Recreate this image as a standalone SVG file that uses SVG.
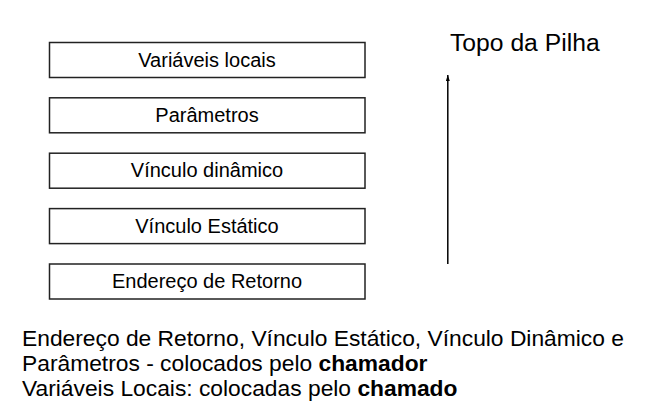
<svg xmlns="http://www.w3.org/2000/svg" width="655" height="406" viewBox="0 0 655 406">
<style>
.box{fill:#ffffff;stroke:#222222;stroke-width:1.5}
.lbl{font-family:"Liberation Sans",Arial,sans-serif;font-size:20px;fill:#000000;text-anchor:middle}
.txt{font-family:"Liberation Sans",Arial,sans-serif;font-size:22.8px;fill:#000000}
.edge{stroke:#000000;stroke-width:1.5;fill:none}
</style>
<defs>
<marker id="ah" viewBox="0 0 6 4" refX="6" refY="2" markerWidth="6" markerHeight="4" markerUnits="userSpaceOnUse" orient="auto">
<path d="M0,0 L6,2 L0,4 Z" fill="#000000"/>
</marker>
</defs>
<rect width="655" height="406" fill="#ffffff"/>
<g id="n1"><rect class="box" x="49.5" y="42.5" width="315.5" height="35"/><text class="lbl" x="207" y="66.7">Variáveis locais</text></g>
<g id="n2"><rect class="box" x="49.5" y="97.8" width="315.5" height="35"/><text class="lbl" x="207" y="122">Parâmetros</text></g>
<g id="n3"><rect class="box" x="49.5" y="153.2" width="315.5" height="35"/><text class="lbl" x="207" y="177.4">Vínculo dinâmico</text></g>
<g id="n4"><rect class="box" x="49.5" y="208.6" width="315.5" height="35"/><text class="lbl" x="207" y="232.8">Vínculo Estático</text></g>
<g id="n5"><rect class="box" x="49.5" y="264" width="315.5" height="35"/><text class="lbl" x="207" y="288.2">Endereço de Retorno</text></g>
<g id="top"><text x="450" y="50.7" style="font-family:'Liberation Sans',Arial,sans-serif;font-size:24.7px;fill:#000">Topo da Pilha</text></g>
<g id="connectors">
<line class="edge" x1="447.8" y1="264" x2="447.8" y2="75" marker-end="url(#ah)"/>
</g>
<g id="notes">
<text class="txt" x="22" y="345.7">Endereço de Retorno, Vínculo Estático, Vínculo Dinâmico e</text>
<text class="txt" x="22" y="370.7">Parâmetros - colocados pelo <tspan font-weight="bold">chamador</tspan></text>
<text class="txt" x="22" y="395.5">Variáveis Locais: colocadas pelo <tspan font-weight="bold">chamado</tspan></text>
</g>
</svg>
